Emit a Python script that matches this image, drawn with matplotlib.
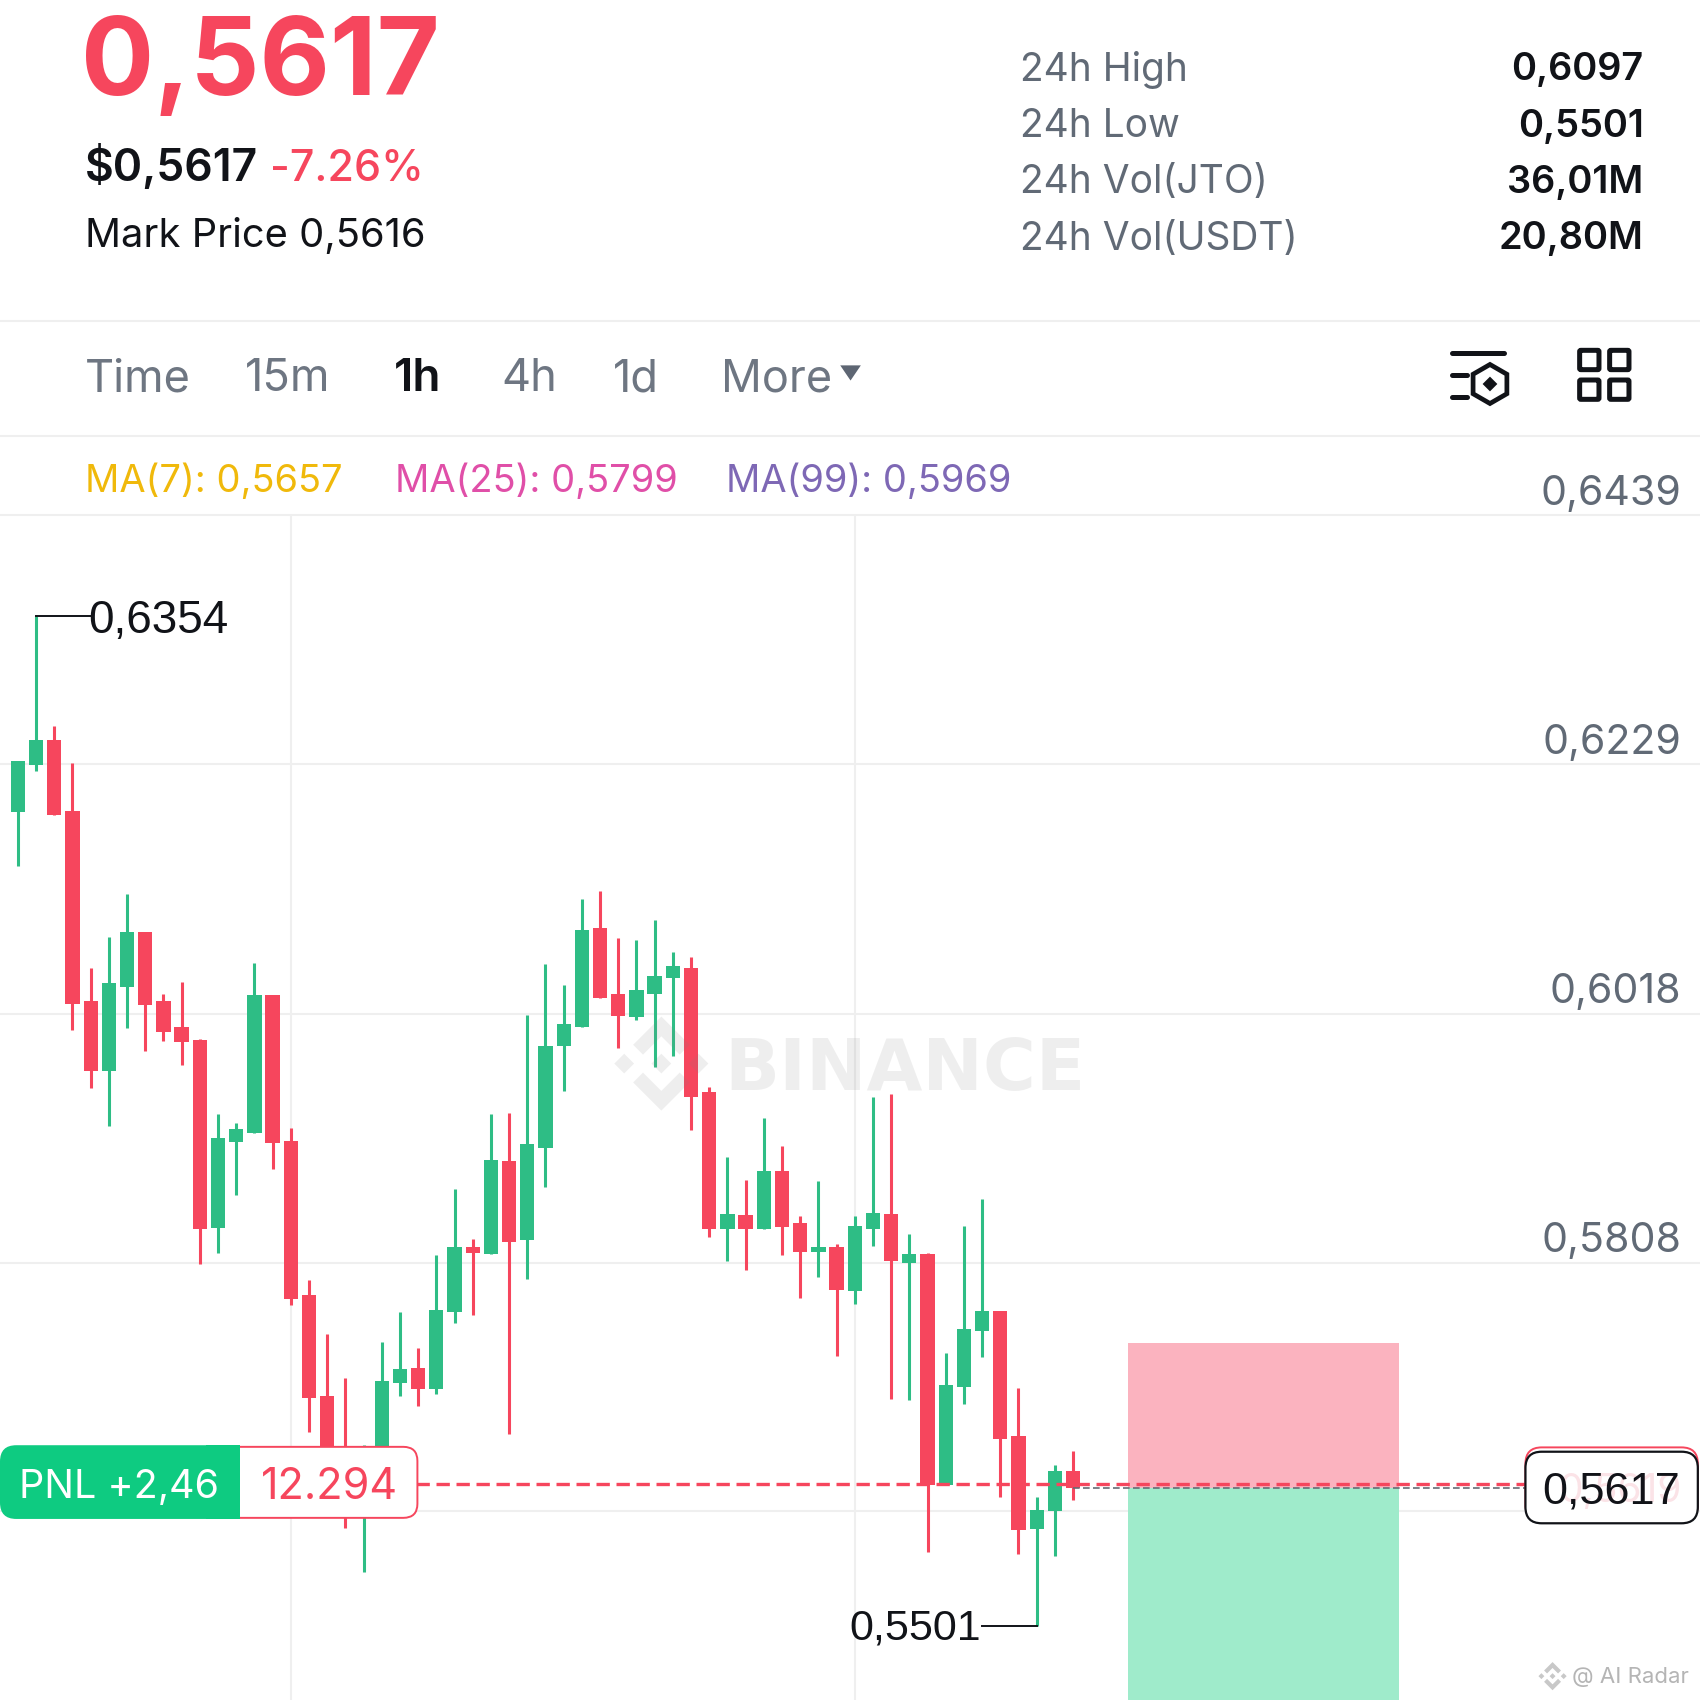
import matplotlib
matplotlib.use("Agg")
import matplotlib.pyplot as plt
from matplotlib.patches import FancyBboxPatch, Polygon, Rectangle, RegularPolygon

opens = [.6188,.6228,.6249,.6189,.6029,.5970,.6041,.6087,.6029,.6007,.5996,.5837,.5910,.5917,.6034,.5911,.5781,.5695,.5648,.5597,
         .5643,.5706,.5719,.5701,.5766,.5821,.5815,.5894,.5827,.5905,.5991,.6007,.6090,.6035,.6015,.6035,.6048,.6057,.5952,.5836,
         .5848,.5836,.5885,.5841,.5817,.5821,.5784,.5836,.5849,.5808,.5815,.5620,.5703,.5750,.5767,.5662,.5583,.5598,.5632]
highs = [.6231,.6354,.6261,.6230,.6057,.6083,.6119,.6087,.6035,.6045,.5997,.5933,.5926,.6061,.6034,.5922,.5793,.5748,.5711,.5654,
         .5741,.5766,.5736,.5814,.5870,.5828,.5933,.5934,.6017,.6060,.6042,.6115,.6122,.6082,.6080,.6097,.6070,.6066,.5956,.5897,
         .5878,.5930,.5906,.5847,.5877,.5824,.5847,.5948,.5950,.5832,.5816,.5732,.5839,.5862,.5767,.5702,.5610,.5637,.5649]
lows = [.6143,.6223,.6186,.6004,.5955,.5923,.6006,.5987,.5995,.5975,.5807,.5816,.5865,.5917,.5887,.5772,.5665,.5627,.5584,.5547,
        .5643,.5695,.5687,.5697,.5757,.5764,.5815,.5663,.5794,.5872,.5953,.6007,.6031,.5989,.6013,.5973,.5982,.5920,.5830,.5809,
        .5802,.5836,.5814,.5778,.5796,.5729,.5773,.5822,.5693,.5692,.5564,.5620,.5689,.5728,.5610,.5562,.5501,.5560,.5608]
closes = [.6231,.6249,.6186,.6026,.5970,.6044,.6087,.6025,.6003,.5994,.5836,.5913,.5921,.6034,.5909,.5777,.5694,.5643,.5606,.5643,
          .5708,.5718,.5701,.5768,.5821,.5816,.5895,.5825,.5908,.5991,.6009,.6089,.6031,.6016,.6038,.6050,.6058,.5948,.5836,.5849,
          .5836,.5885,.5838,.5817,.5821,.5785,.5839,.5850,.5809,.5815,.5620,.5705,.5752,.5767,.5659,.5582,.5599,.5632,.5618]
tick_prices = [0.6439, 0.6229, 0.6018, 0.5808, 0.5598]
tick_labels = ["0,6439", "0,6229", "0,6018", "0,5808"]
time_grid = [15, 46]
stats_names = ["24h High", "24h Low", "24h Vol(JTO)", "24h Vol(USDT)"]
stats_values = ["0,6097", "0,5501", "36,01M", "20,80M"]
tabs = ["Time", "15m", "1h", "4h", "1d", "More"]
ma_labels = ["MA(7): 0,5657", "MA(25): 0,5799", "MA(99): 0,5969"]
position_top = 0.5740
position_mid = 0.5618
position_line = 0.5621
last_price = 0.5618

RED = "#F6465D"; GREEN = "#2EBD85"; GRID = "#EFEFEF"; GRAY = "#616A76"; BLACK = "#111318"
UI = "Inter"; NUM = "Liberation Sans"

fig = plt.figure(figsize=(17, 17), dpi=100, facecolor="white")

STEP = 16.78
ax = fig.add_axes([0, 0, 1, (1568 - 475) / 1568], zorder=1)
ax.set_xlim(-16.5 / STEP, (1568 - 16.5) / STEP)
ax.set_ylim(0.6439 - 1093 * 0.00009151, 0.6439)
ax.axis("off")
for p in tick_prices:
    ax.axhline(p, color=GRID, lw=1.5, zorder=1, clip_on=False)
for t in time_grid:
    ax.axvline(t, color=GRID, lw=1.5, zorder=1)
xs = list(range(len(opens)))
cols = [GREEN if c > o else RED for o, c in zip(opens, closes)]
ax.vlines(xs, lows, highs, colors=cols, lw=2.2, zorder=3)
ax.bar(xs, [abs(c - o) for o, c in zip(opens, closes)], bottom=[min(o, c) for o, c in zip(opens, closes)],
       width=0.786, color=cols, zorder=3)
ymin = ax.get_ylim()[0]
ax.add_patch(Rectangle((61.0, position_mid), 14.9, position_top - position_mid, color="#FBB3BF", lw=0, zorder=2))
ax.add_patch(Rectangle((61.0, ymin), 14.9, position_mid - ymin, color="#9FEBCB", lw=0, zorder=2))
ax.plot([58, 83.8], [last_price, last_price], color="#666C75", lw=1.2, dashes=(4, 2), zorder=4)
ax.plot([21.9, 83.8], [position_line, position_line], color=RED, lw=2.4, dashes=(4, 2), zorder=5)
imax = highs.index(max(highs)); imin = lows.index(min(lows))
ax.plot([imax, imax + 3], [highs[imax]] * 2, color=BLACK, lw=1.4, zorder=5)
ax.text(imax + 2.85, highs[imax], "0,6354", fontsize=33, family=NUM, color=BLACK, va="center_baseline", ha="left", zorder=6)
ax.plot([imin - 3, imin], [lows[imin]] * 2, color=BLACK, lw=1.4, zorder=5)
ax.text(imin - 3.05, lows[imin] + 0.0002, "0,5501", fontsize=31, family=NUM, color=BLACK, va="center_baseline", ha="right", zorder=6)

ov = fig.add_axes([0, 0, 1, 1], zorder=2)
ov.set_xlim(0, 1568); ov.set_ylim(1568, 0); ov.axis("off"); ov.patch.set_alpha(0)

def T(x, y, s, size, color=BLACK, weight="normal", ha="left", va="baseline", family=UI, **k):
    return ov.text(x, y, s, fontsize=size, color=color, fontweight=weight, ha=ha, va=va, family=family, **k)

T(75, 88, "0,5617", 78, RED, "bold")
T(78, 167, "$0,5617", 32, BLACK, "semibold")
T(249, 167, "-7.26%", 31, RED, "medium")
T(78, 228, "Mark Price 0,5616", 28.7, BLACK)
for yy, n, v in zip([61, 113, 165, 217], stats_names, stats_values):
    T(941, yy, n, 28, GRAY, va="center_baseline")
    T(1516, yy, v, 27.3, BLACK, "semibold", ha="right", va="center_baseline")
ov.plot([0, 1568], [296, 296], color=GRID, lw=1.5)
ov.plot([0, 1568], [402, 402], color=GRID, lw=1.5)
for x, n in zip([78, 226, 363, 462, 565, 665], tabs):
    if n == "1h":
        T(x, 361, n, 33, BLACK, "semibold")
    else:
        T(x, 361, n, 32.5, "#6E7682")
ov.add_patch(Polygon([(775, 337), (794, 337), (784.5, 351)], color="#5E6673", lw=0))
for x, s, c in zip([78, 364, 670], ma_labels, ["#F0B90B", "#E04FA8", "#7E68B5"]):
    T(x, 441, s, 27.4, c, va="center_baseline")
for yy, s in zip([452, 682, 911, 1141], tick_labels):
    T(1551, yy, s, 29.6, GRAY, ha="right", va="center_baseline")

def ix(z): return (1400 + z / 3) / 1.0842
def iy(z): return (320 + z / 3) / 1.0842
for (a, b, y) in [(157, 313, 100), (157, 200, 165), (157, 200, 231)]:
    ov.plot([ix(a), ix(b)], [iy(y), iy(y)], color=BLACK, lw=3.6, solid_capstyle="round")
ov.add_patch(RegularPolygon((ix(270), iy(192)), 6, radius=18, orientation=0, fill=False, edgecolor=BLACK, lw=3.4))
ov.add_patch(RegularPolygon((ix(270), iy(192)), 4, radius=6.8, orientation=0, color=BLACK, lw=0))
for (a, b) in [(539, 91), (629, 91), (539, 180), (629, 180)]:
    ov.add_patch(FancyBboxPatch((ix(a), iy(b)), 58 / 3 / 1.0842, 58 / 3 / 1.0842, boxstyle="round,pad=0,rounding_size=1.2",
                                fill=False, edgecolor=BLACK, lw=3.6))

WM = dict(color="#808080", alpha=0.13, lw=0)
def logo(cx, cy, R, **k):
    top = [(-.6, .4), (0, 1), (.6, .4), (.39, .19), (0, .58), (-.39, .19)]
    for sgn in (1, -1):
        ov.add_patch(Polygon([(cx + R * a, cy - sgn * R * b) for a, b in top], **k))
    for dx, r in [(0, .21), (-.79, .21), (.79, .21)]:
        ov.add_patch(Polygon([(cx + R * (dx - r), cy), (cx + R * dx, cy - R * r), (cx + R * (dx + r), cy), (cx + R * dx, cy + R * r)], **k))
logo(610, 981, 43.4, **WM)
T(668, 1005, "BINANCE", 52, "#808080", "bold", alpha=0.13, family="DejaVu Sans")
logo(1432, 1546, 13, color="#C8C8C8", lw=0)
T(1450, 1552, "@ AI Radar", 16, "#B5B5B5")

ov.add_patch(FancyBboxPatch((190, 1334.5), 195, 65.5, boxstyle="round,pad=0,rounding_size=13", fc="white", ec=RED, lw=1.4))
ov.add_patch(FancyBboxPatch((0, 1333), 215, 68, boxstyle="round,pad=0,rounding_size=15", fc="#0ECB81", ec="none"))
ov.add_patch(Rectangle((190, 1333), 31, 68, fc="#0ECB81", ec="none"))
T(110, 1368, "PNL +2,46", 28.4, "white", ha="center", va="center_baseline")
T(304, 1368, "12.294", 31, RED, ha="center", va="center_baseline")

ov.add_patch(FancyBboxPatch((1407, 1335), 159, 68, boxstyle="round,pad=0,rounding_size=15", fc="white", ec=RED, lw=1.4))
ov.add_patch(FancyBboxPatch((1407, 1339), 159, 66, boxstyle="round,pad=0,rounding_size=15", fc="white", ec=BLACK, lw=1.6))
T(1551, 1372, "0,5619", 28, "#FBE3E7", ha="right", va="center_baseline")
T(1486, 1372, "0,5617", 32.5, BLACK, ha="center", va="center_baseline", family=NUM)

fig.savefig("out.png", dpi=100)
